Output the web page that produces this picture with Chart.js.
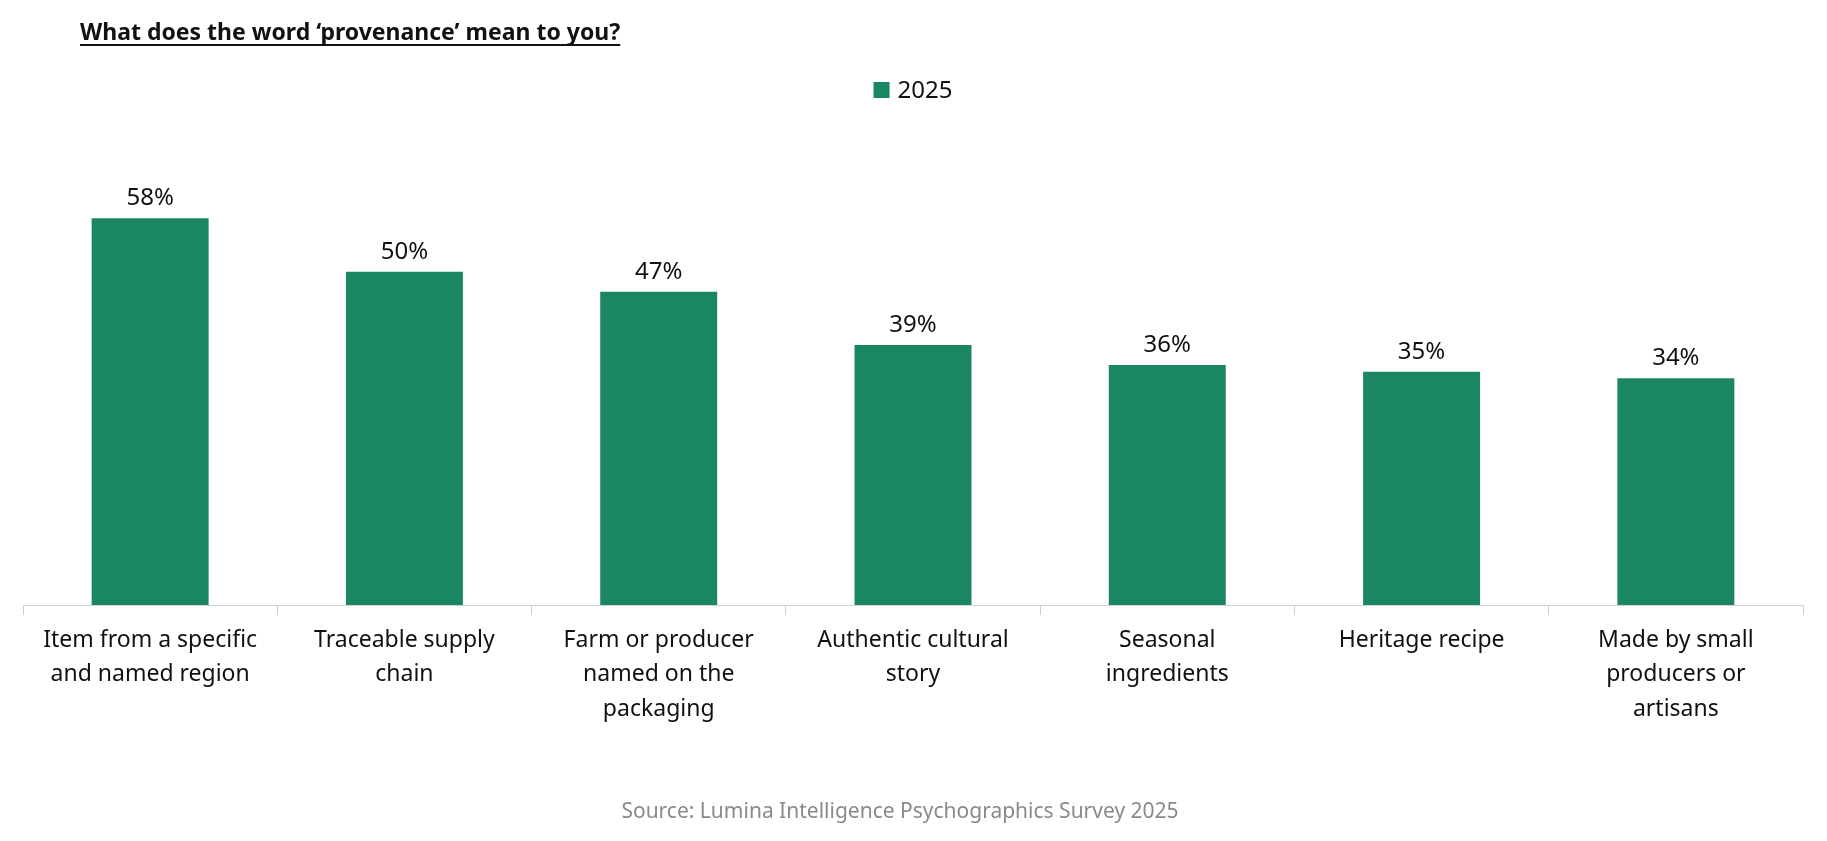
<!DOCTYPE html>
<html><head><meta charset="utf-8">
<script src="https://cdn.jsdelivr.net/npm/chart.js@4/dist/chart.umd.min.js"></script>
<style>html,body{margin:0;padding:0;background:#fff}#w{width:1827px;height:841px}</style>
</head><body><div id="w"><canvas id="c"></canvas></div>
<script>
const categories = [
  ["Item from a specific","and named region"],
  ["Traceable supply","chain"],
  ["Farm or producer","named on the","packaging"],
  ["Authentic cultural","story"],
  ["Seasonal","ingredients"],
  ["Heritage recipe"],
  ["Made by small","producers or","artisans"]
];
const values2025 = [58, 50, 47, 39, 36, 35, 34];
const seriesName = "2025";
const titleText = "What does the word \u2018provenance\u2019 mean to you?";
const sourceText = "Source: Lumina Intelligence Psychographics Survey 2025";
const FONT = "'Noto Sans', 'Open Sans', sans-serif";
const GREEN = "#1b8760";

const deco = {
  id: 'deco',
  afterDraw(chart) {
    const ctx = chart.ctx;
    ctx.save();
    ctx.font = "bold 23px " + FONT;
    ctx.fillStyle = "#111";
    ctx.textBaseline = "alphabetic";
    ctx.textAlign = "left";
    ctx.fillText(titleText, 80, 40);
    const tw = ctx.measureText(titleText).width;
    ctx.fillRect(80, 44, tw, 2);
    ctx.font = "24px " + FONT;
    const lw = 16 + 8 + ctx.measureText(seriesName).width;
    const lx = 913 - lw / 2;
    ctx.fillStyle = GREEN;
    ctx.fillRect(lx, 82, 16, 16);
    ctx.fillStyle = "#111";
    ctx.textBaseline = "middle";
    ctx.fillText(seriesName, lx + 24, 91);
    const meta = chart.getDatasetMeta(0);
    ctx.textAlign = "center";
    ctx.textBaseline = "bottom";
    ctx.font = "24px " + FONT;
    meta.data.forEach((bar, i) => {
      ctx.fillText(values2025[i] + "%", bar.x, bar.y - 8);
    });
    ctx.font = "21px " + FONT;
    ctx.fillStyle = "#8a8a8a";
    ctx.textBaseline = "middle";
    ctx.fillText(sourceText, 900, 812);
    ctx.restore();
  }
};

new Chart(document.getElementById('c'), {
  type: 'bar',
  data: { labels: categories, datasets: [{ label: seriesName, data: values2025, backgroundColor: GREEN, barPercentage: 0.46, categoryPercentage: 1 }] },
  options: {
    responsive: true, maintainAspectRatio: false, animation: false,
    layout: { padding: { top: 205, left: 23, right: 24, bottom: 0 } },
    plugins: { legend: { display: false }, tooltip: { enabled: false } },
    scales: {
      x: {
        offset: true,
        grid: { offset: true, drawOnChartArea: false, drawTicks: true, tickLength: 10, color: "#d0d0d0" },
        border: { color: "#d0d0d0" },
        ticks: { color: "#111", font: { family: FONT, size: 23, lineHeight: 1.5 }, padding: 8, maxRotation: 0, autoSkip: false },
        afterFit(s) { s.height = 236; }
      },
      y: { display: false, min: 0, max: 60 }
    }
  },
  plugins: [deco]
});
</script></body></html>
